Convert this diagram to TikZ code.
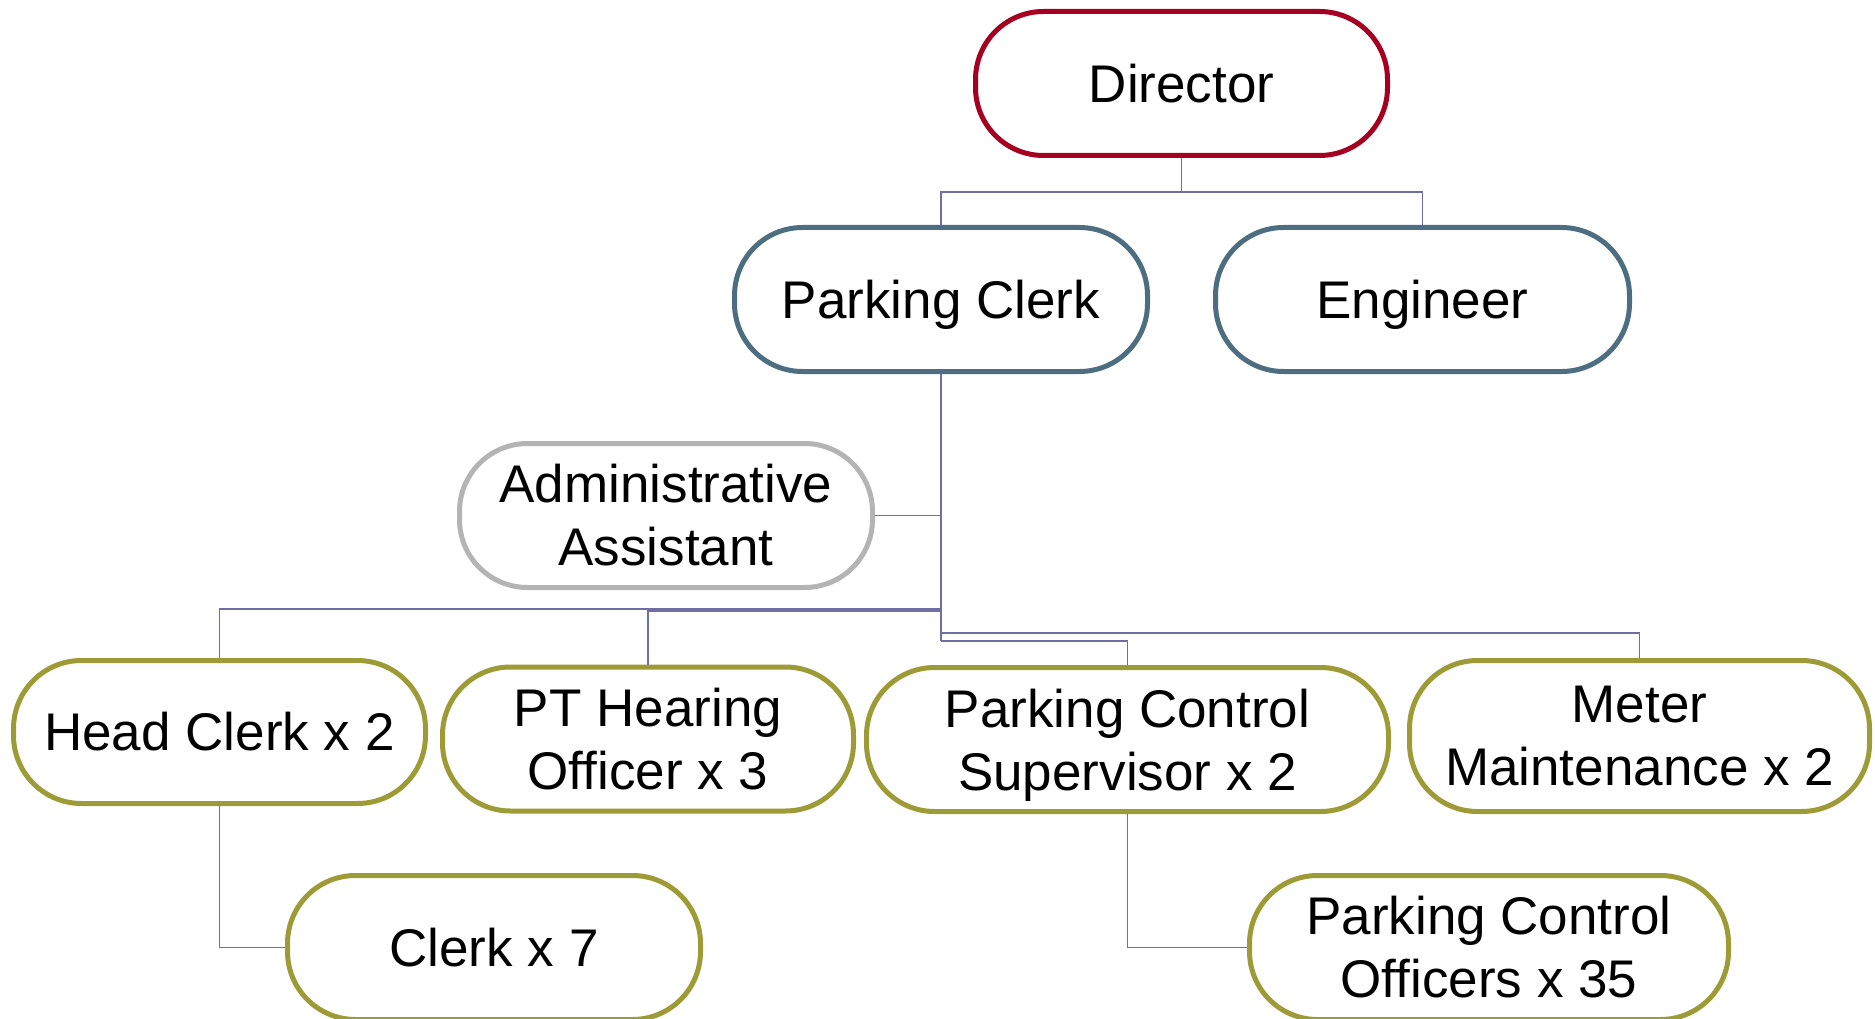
\documentclass[tikz,border=0pt]{standalone}
\usepackage{fontspec}
\setmainfont{Liberation Sans}
\definecolor{dirred}{HTML}{A50021}
\definecolor{midblue}{HTML}{4D6E81}
\definecolor{admgray}{HTML}{B4B4B4}
\definecolor{olive}{HTML}{9C9B36}
\definecolor{linkcol}{HTML}{6F6FA3}
\begin{document}
\begin{tikzpicture}[x=1pt,y=-1pt,
  orgbox/.style={draw, line width=5pt, rectangle, rounded corners=68pt, fill=white,
    inner sep=0pt, minimum height=144pt, align=center,
    font=\fontsize{53}{63}\selectfont},
  toplevel/.style={orgbox, draw=dirred},
  midlevel/.style={orgbox, draw=midblue},
  assistbox/.style={orgbox, draw=admgray},
  staffbox/.style={orgbox, draw=olive},
  link/.style={draw=linkcol, line width=1.4pt}]
\useasboundingbox (0,0) rectangle (1875,1019);

% connectors (drawn first, boxes on top)
\coordinate (jhc) at (941,609);
\coordinate (jpt) at (941,611);
\coordinate (jmm) at (941,633);
\coordinate (jsup) at (941,641);

% nodes
\node[toplevel, minimum width=412pt] (dir) at (1181.5,83.5) {Director};
\node[midlevel, minimum width=413pt, text depth=0pt] (pc) at (941,299.5) {Parking Clerk};
\node[midlevel, minimum width=414pt, text depth=0pt] (eng) at (1422.5,299.5) {Engineer};
\node[assistbox, minimum width=413pt] (adm) at (666,515.5) {Administrative\\Assistant};
\node[staffbox, minimum width=412pt, minimum height=143pt] (hc) at (219.5,732) {Head Clerk x 2};
\node[staffbox, minimum width=411pt] (pt) at (648,739) {PT Hearing\\Officer x 3};
\node[staffbox, minimum width=522pt] (sup) at (1127.5,739.5) {Parking Control\\\smash{Supervisor x 2}};
\node[staffbox, minimum width=460pt, minimum height=151pt] (mm) at (1639.5,736) {Meter\\Maintenance x 2};
\node[staffbox, minimum width=413pt] (clerk) at (494,947.5) {Clerk x 7};
\node[staffbox, minimum width=479pt] (pco) at (1489,947.5) {Parking Control\\Officers x 35};

\begin{scope}[on background layer/.style={}]
\path[link] (dir.south) -- ++(0,34) -| (pc.north);
\path[link] (dir.south) -- ++(0,34) -| (eng.north);
\path[link] (pc.south) -- (jsup);
\path[link] (adm.east) -- (adm.east -| pc.south);
\path[link] (jhc) -| (hc.north);
\path[link] (jpt) -| (pt.north);
\path[link] (jmm) -| (mm.north);
\path[link] (jsup) -| (sup.north);
\path[link] (hc.south) |- (clerk.west);
\path[link] (sup.south) |- (pco.west);
\end{scope}
\end{tikzpicture}
\end{document}
